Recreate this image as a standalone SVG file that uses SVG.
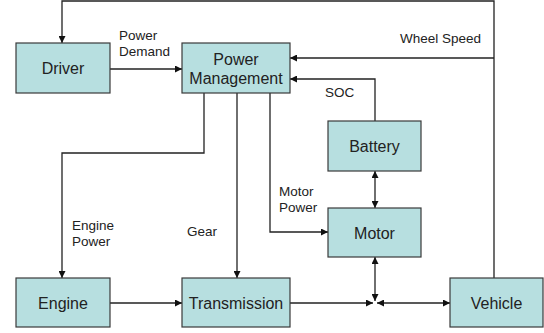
<svg xmlns="http://www.w3.org/2000/svg" width="544" height="333" viewBox="0 0 544 333">
<style>
.box{fill:#b7dfe0;stroke:#3a3a3a;stroke-width:1.2}
.nl{font-family:"Liberation Sans",Arial,sans-serif;font-size:16px;fill:#222;text-anchor:middle}
.el{font-family:"Liberation Sans",Arial,sans-serif;font-size:13.5px;fill:#222}
.ln{fill:none;stroke:#222;stroke-width:1.3}
</style>
<defs>
<marker id="ah" viewBox="0 0 10 10" refX="10" refY="5" markerWidth="7" markerHeight="7" markerUnits="userSpaceOnUse" orient="auto-start-reverse">
<path d="M0,0 L10,5 L0,10 z" fill="#111"/>
</marker>
</defs>
<rect width="544" height="333" fill="#fff"/>
<g id="connectors">
<path class="ln" d="M494,278 V1 H62 V43" marker-end="url(#ah)"/>
<path class="ln" d="M110,69 H182" marker-end="url(#ah)"/>
<path class="ln" d="M494,58 H290" marker-end="url(#ah)"/>
<path class="ln" d="M375,121 V79 H290" marker-end="url(#ah)"/>
<path class="ln" d="M204,93 V153 H62 V278" marker-end="url(#ah)"/>
<path class="ln" d="M237,93 V278" marker-end="url(#ah)"/>
<path class="ln" d="M270,93 V232 H328" marker-end="url(#ah)"/>
<path class="ln" d="M375,171 V208" marker-start="url(#ah)" marker-end="url(#ah)"/>
<path class="ln" d="M110,303 H182" marker-end="url(#ah)"/>
<path class="ln" d="M290,303 H373" marker-end="url(#ah)"/>
<path class="ln" d="M375,257 V301" marker-start="url(#ah)" marker-end="url(#ah)"/>
<path class="ln" d="M377,303 H450" marker-start="url(#ah)" marker-end="url(#ah)"/>
</g>
<g id="labels">
<text class="el" x="119" y="40">Power</text>
<text class="el" x="119" y="56">Demand</text>
<text class="el" x="400" y="43">Wheel Speed</text>
<text class="el" x="325" y="97">SOC</text>
<text class="el" x="72" y="230">Engine</text>
<text class="el" x="72" y="246">Power</text>
<text class="el" x="187" y="236">Gear</text>
<text class="el" x="279" y="196">Motor</text>
<text class="el" x="279" y="212">Power</text>
</g>
<g id="driver"><rect class="box" x="16" y="43" width="94" height="50"/><text class="nl" x="63" y="74">Driver</text></g>
<g id="power-management"><rect class="box" x="182" y="43" width="108" height="50"/><text class="nl" x="236" y="65">Power</text><text class="nl" x="236" y="84">Management</text></g>
<g id="battery"><rect class="box" x="328" y="121" width="93" height="50"/><text class="nl" x="374.5" y="152">Battery</text></g>
<g id="motor"><rect class="box" x="328" y="208" width="93" height="49"/><text class="nl" x="374.5" y="239">Motor</text></g>
<g id="engine"><rect class="box" x="16" y="278" width="94" height="49"/><text class="nl" x="63" y="309">Engine</text></g>
<g id="transmission"><rect class="box" x="182" y="278" width="108" height="49"/><text class="nl" x="236" y="309">Transmission</text></g>
<g id="vehicle"><rect class="box" x="450" y="278" width="93" height="49"/><text class="nl" x="496.5" y="309">Vehicle</text></g>
</svg>
